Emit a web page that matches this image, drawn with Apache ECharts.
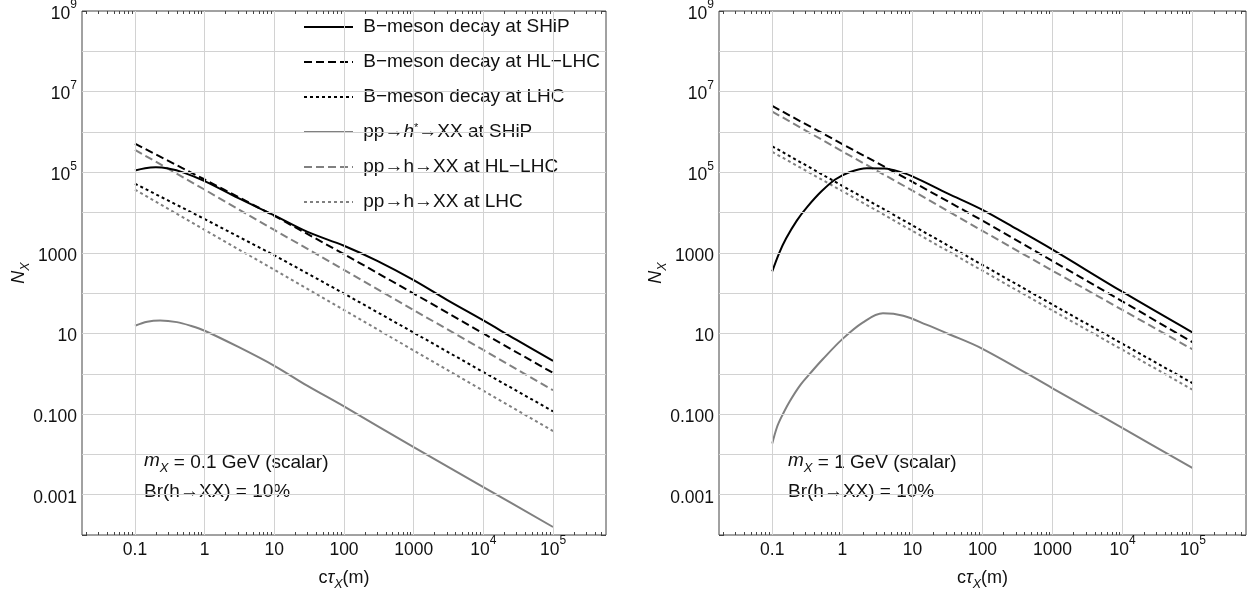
<!DOCTYPE html>
<html><head><meta charset="utf-8">
<script src="https://cdn.jsdelivr.net/npm/echarts@6/dist/echarts.min.js"></script>
<style>html,body{margin:0;padding:0;background:#fff}#c{width:1249px;height:594px}</style>
</head><body><div id="c"></div>
<script>
// ---------------- DATA ----------------
const ctauDecades = [0.1, 1, 10, 100, 1000, 1e4, 1e5];

// Left panel: m_X = 0.1 GeV
const L_ctauShipB = [0.1, 0.14, 0.2, 0.3, 0.5, 1, 3, 10, 30, 100, 300, 1000, 3000, 1e4, 3e4, 1e5];
const L_nShipB    = [1.1e5, 1.26e5, 1.32e5, 1.23e5, 9.8e4, 6.0e4, 2.3e4, 8500, 3300, 1500, 630, 210, 68, 21, 6.9, 2.1];
const L_nHLB      = [5.1e5, 6.6e4, 8300, 930, 98, 10, 1.05];
const L_nLHCB     = [5.2e4, 6900, 870, 98, 10.5, 1.1, 0.117];
const L_ctauShipH = [0.1, 0.15, 0.23, 0.4, 0.63, 1, 3, 10, 30, 100, 1000, 1e4, 1e5];
const L_nShipH    = [15.5, 19.5, 20.9, 19.1, 15.5, 11.7, 4.7, 1.58, 0.5, 0.155, 0.0151, 0.00155, 0.000158];
const L_nHLH      = [3.6e5, 3.7e4, 3700, 380, 38, 3.9, 0.39];
const L_nLHCH     = [3.7e4, 3700, 380, 38, 3.8, 0.38, 0.038];

// Right panel: m_X = 1 GeV
const R_ctauShipB = [0.1, 0.126, 0.158, 0.224, 0.316, 0.5, 0.79, 1.26, 2.24, 4, 6.3, 10, 31.6, 100, 316, 1000, 1e4, 1e5];
const R_nShipB    = [347, 1000, 2290, 6310, 1.38e4, 3.31e4, 6.6e4, 1.0e5, 1.26e5, 1.23e5, 1.05e5, 7.9e4, 3.0e4, 1.17e4, 3800, 1200, 107, 10.5];
const R_nHLB      = [4.4e6, 5.0e5, 5.8e4, 6300, 630, 62, 6.0];
const R_nLHCB     = [4.4e5, 4.6e4, 4800, 500, 52, 5.5, 0.58];
const R_ctauShipH = [0.1, 0.117, 0.138, 0.178, 0.251, 0.355, 0.525, 1, 1.95, 3.8, 7.4, 15.8, 31.6, 100, 1000, 1e4, 1e5];
const R_nShipH    = [0.0186, 0.0479, 0.0912, 0.209, 0.525, 1.07, 2.29, 7.24, 18.6, 31.6, 27.5, 16.6, 10.0, 4.17, 0.437, 0.0447, 0.00457];
const R_nHLH      = [3.2e6, 3.3e5, 3.5e4, 3500, 360, 38, 4.0];
const R_nLHCH     = [3.2e5, 3.4e4, 3500, 360, 37, 3.9, 0.4];

const seriesNames = ['B\u2212meson decay at SHiP', 'B\u2212meson decay at HL\u2212LHC', 'B\u2212meson decay at LHC',
                     'pp\u2192h*\u2192XX at SHiP', 'pp\u2192h\u2192XX at HL\u2212LHC', 'pp\u2192h\u2192XX at LHC'];

const xTickValues = [0.1, 1, 10, 100, 1000, 1e4, 1e5];
const xTickLabels = ['0.1', '1', '10', '100', '1000', '10^4', '10^5'];
const yTickValues = [1e9, 1e7, 1e5, 1000, 10, 0.1, 0.001];
const yTickLabels = ['10^9', '10^7', '10^5', '1000', '10', '0.100', '0.001'];
const yGridValues = [1e-3, 1e-2, 0.1, 1, 10, 100, 1000, 1e4, 1e5, 1e6, 1e7, 1e8];

const panelNotes = [['m_X = 0.1 GeV (scalar)', 'Br(h\u2192XX) = 10%'],
                    ['m_X = 1 GeV (scalar)',   'Br(h\u2192XX) = 10%']];
const xTitle = 'c\u03C4_X(m)';
const yTitle = 'N_X';

// ---------------- CHART ----------------
const FONT = '"Liberation Sans", Arial, Helvetica, sans-serif';
const L10 = Math.log10;
const X_MIN = -1.76, X_MAX = 5.76, Y_MIN = -4, Y_MAX = 9;
const TICK = '#444', GRIDC = '#d2d2d2', TXT = '#111';
const grids = [
  {left: 82, top: 11, width: 524, height: 524},
  {left: 719, top: 11, width: 527, height: 524}
];

const minorX = [];
for (let k = -2; k <= 5; k++) for (let m = 2; m <= 9; m++) {
  const v = L10(m * Math.pow(10, k));
  if (v > X_MIN && v < X_MAX) minorX.push(v);
}
const majorX = xTickValues.map(L10);

function supRich(s) {
  const p = s.split('^');
  return p.length > 1 ? '{b|' + p[0] + '}{e|' + p[1] + '}' : '{b|' + s + '}';
}
const tickRich = {
  b: {fontSize: 17.5, lineHeight: 24, verticalAlign: 'bottom', fontFamily: FONT, color: TXT},
  e: {fontSize: 12, lineHeight: 12, verticalAlign: 'top', fontFamily: FONT, color: TXT}
};
function lookup(vals, labels, v) {
  const i = vals.findIndex(t => Math.abs(L10(t) - v) < 1e-6);
  return i < 0 ? '' : supRich(labels[i]);
}
function titleRich(s, italicFirst) {
  const [a, rest] = s.split('_');
  const sub = rest.charAt(0), tail = rest.slice(1);
  let head;
  if (italicFirst) head = '{i|' + a + '}';
  else head = '{r|' + a.slice(0, -1) + '}{i|' + a.slice(-1) + '}';
  return head + '{s|' + sub + '}' + (tail ? '{r|' + tail + '}' : '');
}
const titleRichStyle = {
  r: {fontSize: 18, lineHeight: 22, verticalAlign: 'top', fontFamily: FONT, color: TXT},
  i: {fontSize: 18, lineHeight: 22, verticalAlign: 'top', fontStyle: 'italic', fontFamily: FONT, color: TXT},
  s: {fontSize: 12.5, lineHeight: 12, verticalAlign: 'bottom', fontStyle: 'italic', fontFamily: FONT, color: TXT}
};

const xAxis = [], yAxis = [];
grids.forEach((g, gi) => {
  const base = {gridIndex: gi, type: 'value', min: X_MIN, max: X_MAX, axisLine: {show: false, onZero: false},
                splitLine: {show: false}, axisLabel: {show: false}};
  const tk = (vals, len) => ({show: true, inside: true, length: len, customValues: vals, lineStyle: {color: TICK, width: 1}});
  xAxis.push(Object.assign({}, base, {
    position: 'bottom', axisTick: tk(majorX, 5),
    axisLabel: {show: true, customValues: majorX, margin: 0, rich: tickRich,
                formatter: v => lookup(xTickValues, xTickLabels, v)},
    name: titleRich(xTitle, false), nameLocation: 'middle', nameGap: 34, nameMoveOverlap: false,
    nameTextStyle: {rich: titleRichStyle}
  }));
  xAxis.push(Object.assign({}, base, {position: 'bottom', axisTick: tk(minorX, 3)}));
  xAxis.push(Object.assign({}, base, {position: 'top', axisTick: tk(majorX, 5)}));
  xAxis.push(Object.assign({}, base, {position: 'top', axisTick: tk(minorX, 3)}));

  const yb = {gridIndex: gi, type: 'value', min: Y_MIN, max: Y_MAX, interval: 1, axisLine: {show: false, onZero: false},
              splitLine: {show: false}, axisTick: {show: true, inside: true, length: 5, lineStyle: {color: TICK, width: 1}}};
  yAxis.push(Object.assign({}, yb, {
    position: 'left',
    axisLabel: {show: true, customValues: yTickValues.map(L10), margin: 5, rich: tickRich,
                formatter: v => lookup(yTickValues, yTickLabels, v)},
    name: titleRich(yTitle, true), nameLocation: 'middle', nameGap: 50, nameRotate: 90, nameMoveOverlap: false,
    nameTextStyle: {rich: titleRichStyle}
  }));
  yAxis.push(Object.assign({}, yb, {position: 'right', axisLabel: {show: false}}));
});

const styles = [
  {color: '#000', type: 'solid'},
  {color: '#000', type: [8, 4]},
  {color: '#000', type: [3, 3]},
  {color: '#808080', type: 'solid'},
  {color: '#808080', type: [8, 4]},
  {color: '#808080', type: [3, 3]}
];
const panels = [
  [[L_ctauShipB, L_nShipB], [ctauDecades, L_nHLB], [ctauDecades, L_nLHCB],
   [L_ctauShipH, L_nShipH], [ctauDecades, L_nHLH], [ctauDecades, L_nLHCH]],
  [[R_ctauShipB, R_nShipB], [ctauDecades, R_nHLB], [ctauDecades, R_nLHCB],
   [R_ctauShipH, R_nShipH], [ctauDecades, R_nHLH], [ctauDecades, R_nLHCH]]
];

const series = [];
panels.forEach((p, gi) => {
  series.push({
    type: 'line', name: '_grid' + gi, xAxisIndex: gi * 4, yAxisIndex: gi * 2,
    data: [[X_MIN, Y_MIN]], symbol: 'none', lineStyle: {opacity: 0}, silent: true, z: 1,
    markLine: {silent: true, symbol: ['none', 'none'], label: {show: false}, animation: false,
      lineStyle: {color: GRIDC, width: 1, type: 'solid'}, emphasis: {disabled: true},
      data: xTickValues.map(v => ({xAxis: L10(v)})).concat(yGridValues.map(v => ({yAxis: L10(v)})))}
  });
  [3, 4, 5, 0, 1, 2].forEach(si => {
    const [xs, ys] = p[si];
    const curved = (si === 0 || si === 3);
    series.push({
      type: 'line', name: seriesNames[si], xAxisIndex: gi * 4, yAxisIndex: gi * 2,
      data: xs.map((x, i) => [L10(x), L10(ys[i])]),
      symbol: 'none', smooth: curved ? 0.35 : false, silent: true, z: 3,
      color: styles[si].color,
      itemStyle: {color: styles[si].color},
      lineStyle: {color: styles[si].color, width: 2, type: styles[si].type, cap: 'butt'},
      emphasis: {disabled: true}
    });
  });
});

function noteRich(s) {
  return s.replace('m_X', '{m|m}{x|X}');
}
const noteStyleRich = {
  m: {fontSize: 19, lineHeight: 24, verticalAlign: 'top', fontStyle: 'italic', fontFamily: FONT, fill: TXT},
  x: {fontSize: 13, lineHeight: 13, verticalAlign: 'bottom', fontStyle: 'italic', fontFamily: FONT, fill: TXT}
};
const noteLeft = [144, 788];
const noteTop = [451, 480];
const graphic = [];
panelNotes.forEach((lines, gi) => lines.forEach((t, j) => {
  graphic.push({type: 'text', left: noteLeft[gi], top: noteTop[j], silent: true,
    style: {text: noteRich(t), rich: noteStyleRich, fontSize: 19, lineHeight: 24, fontFamily: FONT, fill: TXT}});
}));

const chart = echarts.init(document.getElementById('c'), null, {renderer: 'canvas'});
chart.setOption({
  animation: false,
  backgroundColor: '#fff',
  textStyle: {fontFamily: FONT},
  grid: grids.map(g => Object.assign({show: true, borderColor: '#444', borderWidth: 1, backgroundColor: 'transparent',
                                      containLabel: false, outerBoundsMode: 'none'}, g)),
  xAxis, yAxis, series, graphic,
  legend: {
    data: seriesNames, orient: 'vertical', left: 303, top: 17, padding: 0,
    itemWidth: 49, itemHeight: 20, itemGap: 15,
    selectedMode: false,
    itemStyle: {opacity: 0},
    formatter: n => ' ' + n.replace('h*', '{i|h}{s|*}'),
    textStyle: {fontFamily: FONT, fontSize: 19, lineHeight: 20, color: TXT,
      rich: {i: {fontStyle: 'italic', fontSize: 19, lineHeight: 20, fontFamily: FONT, color: TXT},
             s: {fontSize: 11, lineHeight: 11, verticalAlign: 'top', fontFamily: FONT, color: TXT}}}
  }
});
</script></body></html>
